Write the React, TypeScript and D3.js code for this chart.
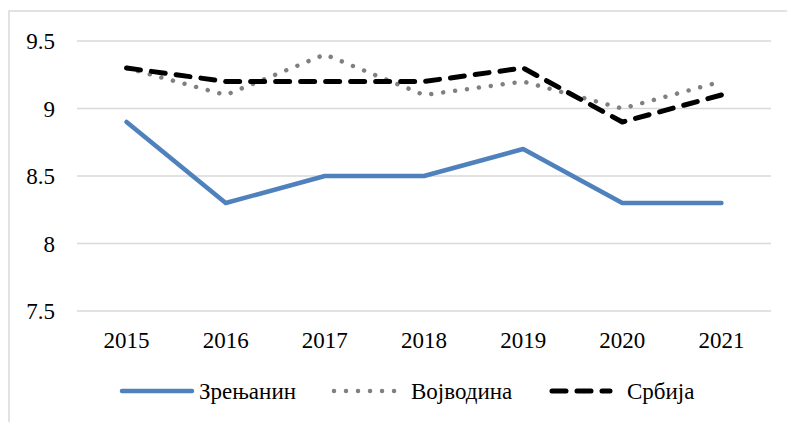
import React from "react";
import * as d3 from "d3";

const years = ["2015", "2016", "2017", "2018", "2019", "2020", "2021"];
const zrenjanin = [8.9, 8.3, 8.5, 8.5, 8.7, 8.3, 8.3];
const vojvodina = [9.3, 9.1, 9.4, 9.1, 9.2, 9.0, 9.2];
const srbija = [9.3, 9.2, 9.2, 9.2, 9.3, 8.9, 9.1];
const yTicks = [7.5, 8, 8.5, 9, 9.5];

const seriesNames = ["Зрењанин", "Војводина", "Србија"];

const W = 787;
const H = 422;
const FONT = "Liberation Serif";

const styles = [
  { color: "#4F81BD", width: 4.5, dash: null, cap: "round" },
  { color: "#808080", width: 4.5, dash: "0.01 12", cap: "round" },
  { color: "#000000", width: 5, dash: "14 11", cap: "round" },
];

export default function App() {
  const x = d3.scaleBand().domain(years).range([77, 771]);
  const y = d3.scaleLinear().domain([7.5, 9.5]).range([311, 41]);

  const line = d3
    .line<number>()
    .x((_, i) => (x(years[i]) as number) + x.bandwidth() / 2)
    .y((d) => y(d));

  const data = [zrenjanin, vojvodina, srbija];

  // legend layout: line start, line end, text start
  const legend = [
    { x1: 122, x2: 192, tx: 199 },
    { x1: 334, x2: 402, tx: 411 },
    { x1: 552, x2: 610, tx: 627 },
  ];

  const txt = { fontFamily: FONT, fontSize: 23, fill: "#000" };

  return (
    <div style={{ position: "fixed", left: 0, top: 0 }}>
      <svg width={W} height={H} style={{ display: "block", background: "#fff" }}>
        {/* chart border, partly outside the picture */}
        <rect x={9} y={11} width={W + 10} height={H + 10} fill="#fff" stroke="#D9D9D9" strokeWidth={1.5} />

        {yTicks.map((t) => (
          <g key={t}>
            <line x1={77} x2={771} y1={y(t)} y2={y(t)} stroke="#D9D9D9" strokeWidth={1.5} />
            <text x={55} y={y(t)} dy="0.35em" textAnchor="end" style={txt}>
              {t}
            </text>
          </g>
        ))}

        {years.map((yr) => (
          <text
            key={yr}
            x={(x(yr) as number) + x.bandwidth() / 2}
            y={348}
            textAnchor="middle"
            style={txt}
          >
            {yr}
          </text>
        ))}

        {data.map((d, i) => (
          <path
            key={seriesNames[i]}
            d={line(d) || ""}
            fill="none"
            stroke={styles[i].color}
            strokeWidth={styles[i].width}
            strokeDasharray={styles[i].dash || undefined}
            strokeLinecap={styles[i].cap as any}
            strokeLinejoin="round"
          />
        ))}

        {seriesNames.map((name, i) => (
          <g key={name}>
            <line
              x1={legend[i].x1}
              x2={legend[i].x2}
              y1={391}
              y2={391}
              stroke={styles[i].color}
              strokeWidth={styles[i].width}
              strokeDasharray={styles[i].dash || undefined}
              strokeLinecap={styles[i].cap as any}
            />
            <text x={legend[i].tx} y={399} style={txt}>
              {name}
            </text>
          </g>
        ))}
      </svg>
    </div>
  );
}
